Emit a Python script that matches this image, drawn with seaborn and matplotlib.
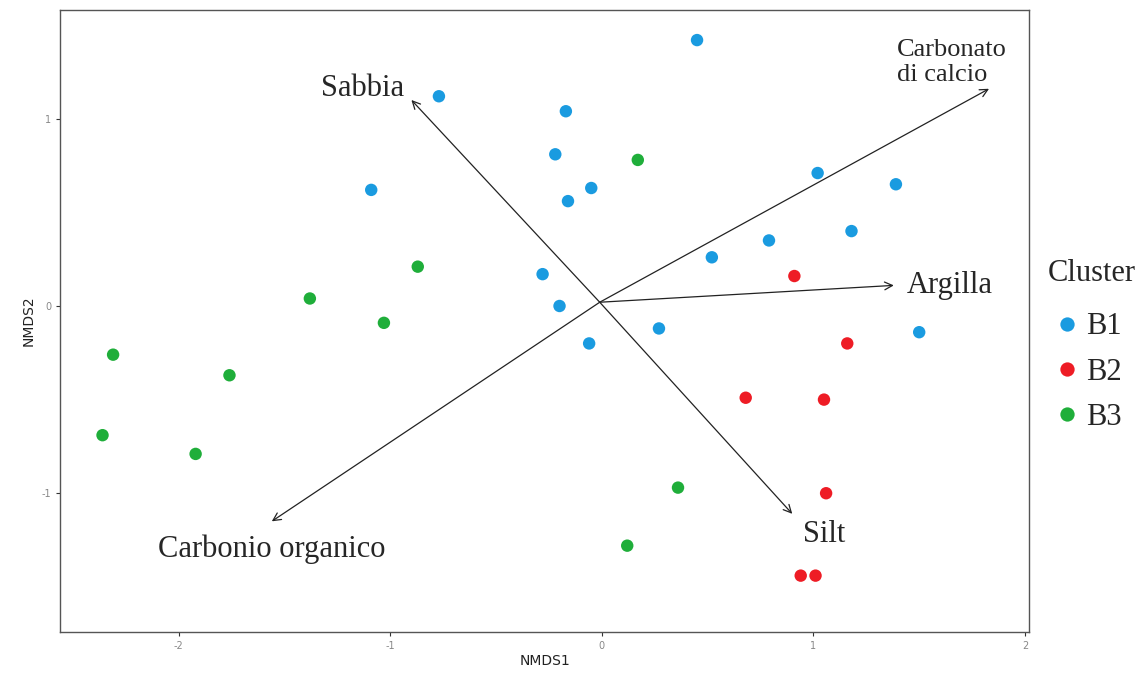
import pandas as pd
import matplotlib.pyplot as plt
import seaborn as sns

# site scores
b1_x = [0.45, -0.77, -0.17, -0.22, -0.05, -0.16, -1.09, 1.02, 1.39, 0.79, 1.18, 0.52, -0.28, -0.20, 0.27, -0.06, 1.50]
b1_y = [1.42, 1.12, 1.04, 0.81, 0.63, 0.56, 0.62, 0.71, 0.65, 0.35, 0.40, 0.26, 0.17, 0.00, -0.12, -0.20, -0.14]
b2_x = [0.91, 1.16, 0.68, 1.05, 1.06, 0.94, 1.01]
b2_y = [0.16, -0.20, -0.49, -0.50, -1.00, -1.44, -1.44]
b3_x = [0.17, -0.87, -1.38, -1.03, -2.31, -1.76, -2.36, -1.92, 0.36, 0.12]
b3_y = [0.78, 0.21, 0.04, -0.09, -0.26, -0.37, -0.69, -0.79, -0.97, -1.28]

# environmental vectors
vec_names = ["Sabbia", "Carbonato\ndi calcio", "Argilla", "Silt", "Carbonio organico"]
vec_x = [-0.90, 1.83, 1.38, 0.90, -1.56]
vec_y = [1.10, 1.16, 0.11, -1.11, -1.15]
origin = (-0.01, 0.02)

df = pd.DataFrame({
    "NMDS1": b1_x + b2_x + b3_x,
    "NMDS2": b1_y + b2_y + b3_y,
    "Cluster": ["B1"] * len(b1_x) + ["B2"] * len(b2_x) + ["B3"] * len(b3_x),
})

sns.set_style("white")
plt.rcParams["axes.unicode_minus"] = False
palette = {"B1": "#1a9be0", "B2": "#ee1c25", "B3": "#1fae3a"}

fig = plt.figure(figsize=(11.36, 6.75), dpi=100)
ax = fig.add_axes([0.053, 0.064, 0.853, 0.921])

sns.scatterplot(data=df, x="NMDS1", y="NMDS2", hue="Cluster", palette=palette,
                s=80, edgecolor="none", ax=ax)

for name, vx, vy in zip(vec_names, vec_x, vec_y):
    ax.annotate("", xy=(vx, vy), xytext=origin,
                arrowprops=dict(arrowstyle="->", color="#222222", lw=0.9,
                                mutation_scale=14, shrinkA=0, shrinkB=0))

serif = "Liberation Serif"
fs = 22
ax.text(-1.13, 1.16, "Sabbia", family=serif, fontsize=fs, ha="center", va="center")
ax.text(1.395, 1.30, "Carbonato\ndi calcio", family=serif, fontsize=19, ha="left", va="center",
        linespacing=1.15)
ax.text(1.44, 0.11, "Argilla", family=serif, fontsize=fs, ha="left", va="center")
ax.text(1.05, -1.22, "Silt", family=serif, fontsize=fs, ha="center", va="center")
ax.text(-1.56, -1.30, "Carbonio organico", family=serif, fontsize=fs, ha="center", va="center")

ax.set_xlim(-2.56, 2.02)
ax.set_ylim(-1.74, 1.58)
ax.set_xticks([-2, -1, 0, 1, 2])
ax.set_yticks([-1, 0, 1])
ax.tick_params(axis="both", length=3, width=0.8, color="#333333", labelsize=7,
               labelcolor="#888888", direction="out", bottom=True, left=True)
for sp in ax.spines.values():
    sp.set_color("#555555")
    sp.set_linewidth(1.0)
ax.set_xlabel("NMDS1", fontsize=10, color="#222222", labelpad=2)
ax.set_ylabel("NMDS2", fontsize=10, color="#222222", labelpad=4)

leg = ax.legend(title="Cluster", loc="upper left", bbox_to_anchor=(1.0196, 0.600),
                frameon=False, prop={"family": serif, "size": fs},
                markerscale=1.15, handlelength=1.2, handletextpad=0.05,
                labelspacing=0.53, borderpad=0, borderaxespad=0)
leg.get_title().set_family(serif)
leg.get_title().set_fontsize(fs)
leg._legend_box.align = "left"
leg._legend_box.sep = 0.53 * fs + 6

plt.savefig("out.png", dpi=100)
